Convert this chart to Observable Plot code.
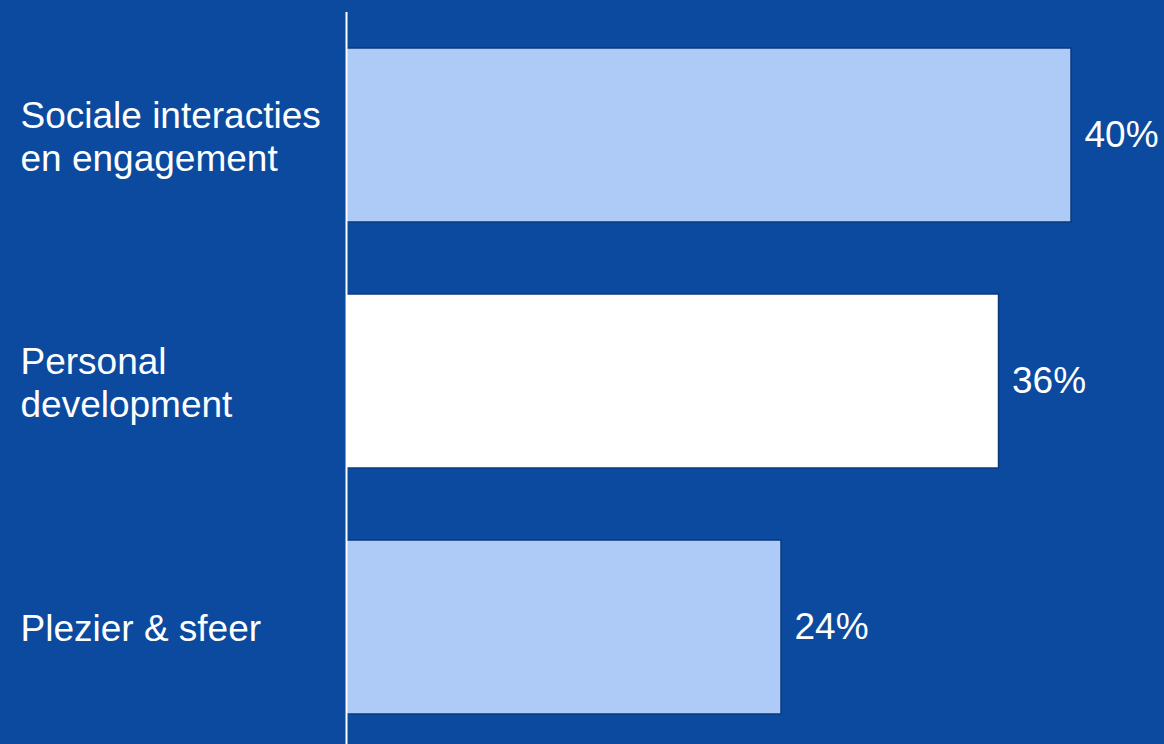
<!DOCTYPE html>
<html>
<head>
<meta charset="utf-8">
<script src="https://cdn.jsdelivr.net/npm/d3@7"></script>
<script src="https://cdn.jsdelivr.net/npm/@observablehq/plot@0.6"></script>
<style>
  html, body { margin: 0; padding: 0; background: #0b4a9e; }
  #chart svg { display: block; }
</style>
</head>
<body>
<div id="chart"></div>
<script>
const categories = ["Sociale interacties\nen engagement", "Personal\ndevelopment", "Plezier & sfeer"];
const values = [40, 36, 24];
const barColors = ["#aecbf8", "#ffffff", "#aecbf8"];

const data = categories.map((c, i) => ({cat: c, value: values[i], color: barColors[i]}));

const chart = Plot.plot({
  width: 1164,
  height: 744,
  marginTop: 12,
  marginBottom: 0,
  marginLeft: 346,
  marginRight: 93,
  style: {background: "#0b4a9e", fontFamily: "Liberation Sans, Arial, sans-serif"},
  x: {domain: [0, 40], range: [346, 1071], axis: null},
  y: {domain: categories, range: [11, 750], paddingInner: 0.293, paddingOuter: 0.1465, axis: null},
  marks: [
    Plot.barX(data, {x: "value", y: "cat", fill: "color", stroke: "#0a3a7c", strokeWidth: 1.5}),
    Plot.ruleX([0], {stroke: "#ffffff", strokeWidth: 2}),
    Plot.text(data, {y: "cat", text: "cat", frameAnchor: "left", dx: -326, textAnchor: "start", lineAnchor: "middle", lineHeight: 1.17, fill: "#ffffff", fontSize: 37}),
    Plot.text(data, {x: "value", y: "cat", text: d => d.value + "%", dx: 13, textAnchor: "start", fill: "#ffffff", fontSize: 37})
  ]
});
document.getElementById("chart").appendChild(chart);
</script>
</body>
</html>
